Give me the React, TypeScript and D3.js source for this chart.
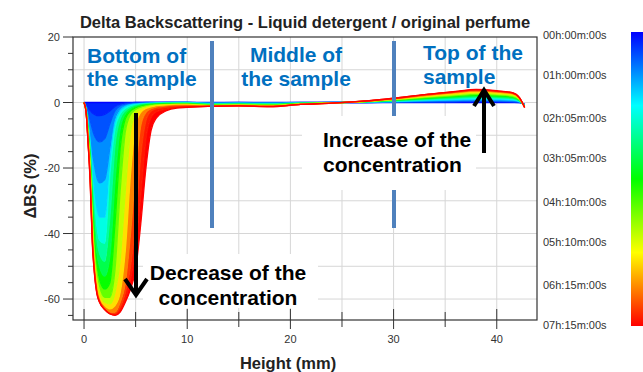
import React from 'react';
import * as d3 from 'd3';

// heights (mm) shared by every profile
const heights = [0, 0.2, 0.4, 0.6, 0.8, 1, 1.25, 1.5, 2, 2.5, 3, 3.5, 4, 4.5, 5, 5.5, 6, 6.5, 7, 8, 9, 10,
  12, 15, 18, 21, 24, 27, 30, 33, 36, 38, 40, 41.5, 42.2, 42.7];

// scan times (minutes)
const times = [0, 15, 35, 60, 90, 120, 150, 185, 220, 260, 300, 340, 380, 410, 425, 435];

// delta backscattering (%) per scan
const dbs000 = [0, 0, 0, 0, 0, 0, 0, 0, 0, 0, 0, 0, 0, 0, 0, 0, 0, 0, 0, 0, 0, 0, 0, 0, 0, 0, 0, 0, 0, 0, 0, 0, 0, 0, 0, -0.5];
const dbs015 = [0, -0.5, -1.5, -2.5, -3.2, -3.6, -4, -4, -3.6, -2.6, -1.2, -0.5, -0.2, -0.1, 0, 0, 0, 0, 0, 0, 0, 0, -0.1, 0, -0.1, 0, 0, 0, 0.1, 0.1, 0.2, 0.2, 0.2, 0.1, 0, -0.6];
const dbs035 = [0, -1, -3, -5.5, -8, -10, -11.5, -12, -11, -6.5, -2.5, -1, -0.5, -0.3, -0.2, -0.1, 0, 0, 0, 0, 0, 0, -0.1, -0.1, -0.1, -0.1, 0, 0, 0.1, 0.2, 0.3, 0.4, 0.4, 0.3, 0.1, -0.7];
const dbs060 = [0, -1.5, -4.5, -9, -15, -19, -23, -24.5, -23.5, -14, -5, -2, -1, -0.6, -0.4, -0.3, -0.2, -0.1, -0.1, 0, 0, 0, -0.2, -0.2, -0.2, -0.1, 0, 0.1, 0.2, 0.4, 0.6, 0.7, 0.6, 0.5, 0.2, -0.8];
const dbs090 = [0, -2, -6, -12, -20, -26, -32, -35, -35, -18, -6, -2.5, -1.2, -0.7, -0.5, -0.4, -0.3, -0.2, -0.1, -0.1, 0, 0, -0.3, -0.2, -0.3, -0.1, 0, 0.1, 0.3, 0.6, 0.8, 1.0, 0.9, 0.7, 0.3, -0.9];
const dbs120 = [0, -2, -7, -14, -23, -31, -38, -42, -43, -22, -8, -3.5, -1.8, -1, -0.7, -0.5, -0.4, -0.3, -0.2, -0.1, -0.1, -0.1, -0.4, -0.3, -0.4, -0.2, -0.1, 0.1, 0.4, 0.8, 1.1, 1.3, 1.2, 1.0, 0.4, -1.0];
const dbs150 = [0, -2.5, -8, -15, -25, -34, -42, -46, -48.5, -35, -13, -5, -2.5, -1.4, -0.9, -0.6, -0.5, -0.4, -0.3, -0.2, -0.2, -0.2, -0.5, -0.4, -0.5, -0.2, -0.1, 0.2, 0.5, 0.9, 1.3, 1.6, 1.4, 1.2, 0.5, -1.0];
const dbs185 = [0, -2.5, -9, -16, -28, -38, -46, -50, -53, -47, -24, -8, -3.5, -2, -1.2, -0.8, -0.6, -0.5, -0.4, -0.3, -0.3, -0.3, -0.6, -0.5, -0.6, -0.3, -0.1, 0.2, 0.6, 1.1, 1.6, 1.9, 1.7, 1.4, 0.6, -1.1];
const dbs220 = [0, -2.5, -9, -18, -31, -42, -50, -54, -57, -55, -37, -14, -5, -2.6, -1.6, -1.1, -0.8, -0.6, -0.5, -0.4, -0.4, -0.4, -0.7, -0.6, -0.7, -0.3, -0.1, 0.2, 0.7, 1.3, 1.9, 2.2, 2.0, 1.7, 0.8, -1.2];
const dbs260 = [0, -2.6, -10, -19, -34, -45, -52, -56, -59.5, -59.5, -51, -27, -9, -3.7, -2.1, -1.4, -1, -0.8, -0.7, -0.6, -0.5, -0.5, -0.8, -0.7, -0.8, -0.4, -0.1, 0.3, 0.8, 1.5, 2.1, 2.5, 2.3, 1.9, 0.9, -1.3];
const dbs300 = [0, -2.7, -10.5, -20, -36, -47, -54, -58, -61, -61.5, -58, -48, -27, -9, -3.5, -2, -1.4, -1, -0.8, -0.7, -0.6, -0.6, -0.9, -0.8, -0.9, -0.4, -0.1, 0.3, 0.9, 1.7, 2.4, 2.9, 2.6, 2.2, 1.0, -1.3];
const dbs340 = [0, -2.8, -11, -21, -38, -49, -56, -59.5, -62, -63, -62, -58, -45, -22, -7, -3, -1.8, -1.3, -1, -0.8, -0.7, -0.7, -1.0, -0.8, -1.0, -0.5, -0.2, 0.3, 1.0, 1.9, 2.7, 3.2, 2.9, 2.5, 1.2, -1.4];
const dbs380 = [0, -2.9, -12, -22.5, -40, -50.5, -57.3, -60.3, -62.8, -64, -64, -61, -55, -40, -21, -7, -3, -1.9, -1.4, -1.1, -0.9, -0.9, -1.1, -0.9, -1.1, -0.5, -0.2, 0.4, 1.1, 2.1, 3.0, 3.5, 3.2, 2.7, 1.3, -1.4];
const dbs410 = [0, -3, -12.5, -23.5, -41.5, -51.3, -58, -60.7, -63.1, -64.4, -64.6, -62.5, -58, -50, -36, -16, -5.5, -2.6, -1.9, -1.4, -1.2, -1.1, -1.1, -1.0, -1.2, -0.6, -0.2, 0.4, 1.2, 2.3, 3.2, 3.8, 3.4, 2.9, 1.4, -1.5];
const dbs425 = [0, -3, -12.8, -24.3, -42.3, -51.7, -58.3, -60.9, -63.2, -64.5, -64.8, -63.3, -60, -54, -44, -28, -11, -4.5, -2.8, -2, -1.5, -1.3, -1.2, -1.0, -1.2, -0.6, -0.2, 0.4, 1.3, 2.4, 3.3, 3.9, 3.5, 3.0, 1.5, -1.5];
const dbs435 = [0, -3, -13, -25, -43, -52, -58.5, -61, -63.2, -64.5, -65, -64, -61, -57, -51, -37, -20, -8.5, -4.8, -2.5, -1.7, -1.5, -1.2, -1.0, -1.3, -0.6, -0.2, 0.4, 1.3, 2.4, 3.4, 4.0, 3.6, 3.0, 1.5, -1.5];

const curves = [dbs000, dbs015, dbs035, dbs060, dbs090, dbs120, dbs150, dbs185, dbs220, dbs260, dbs300, dbs340, dbs380, dbs410, dbs425, dbs435];

// axes
const xMajor = [0, 10, 20, 30, 40];
const xMinor = [5, 15, 25, 35];
const xGrid = [0, 5, 10, 15, 20, 25, 30, 35, 40];
const yMajor = [20, 0, -20, -40, -60];
const yMinor = [15, 10, 5, -5, -10, -15, -25, -30, -35, -45, -50, -55, -65];
const yGrid = [10, 0, -10, -20, -30, -40, -50, -60];

// legend
const legendTimes = [0, 60, 125, 185, 250, 310, 375, 435];
const legendLabels = ['00h:00m:00s', '01h:00m:00s', '02h:05m:00s', '03h:05m:00s', '04h:10m:00s', '05h:10m:00s', '06h:15m:00s', '07h:15m:00s'];
const rainbow = ['#0000ff', '#00ffff', '#00ff00', '#ffff00', '#ff0000'];

const FONT = "'Liberation Sans', Arial, sans-serif";
const BLUE_TXT = '#0070c0';
const BAR = '#4f81bd';

const App = () => {
  const W = 643, H = 372;
  const left = 73, right = 537, top = 37, bottom = 320;

  const x = d3.scaleLinear().domain([-1.07, 43.9]).range([left, right]);
  const y = d3.scaleLinear().domain([-66.4, 20]).range([bottom, top]);
  const tMax = d3.max(times) as number;
  const color = d3.scaleLinear<string>()
    .domain(rainbow.map((_, i) => (i / (rainbow.length - 1)) * tMax))
    .range(rainbow)
    .interpolate(d3.interpolateRgb);
  const tY = d3.scaleLinear().domain([0, tMax]).range([35, 325]);

  const line = d3.line<number>()
    .x((_, i) => x(heights[i]))
    .y(d => y(d))
    .curve(d3.curveMonotoneX);

  const band = (lo: number[], hi: number[]) =>
    d3.area<number>()
      .x((_, i) => x(heights[i]))
      .y0((_, i) => y(lo[i]))
      .y1((_, i) => y(hi[i]))
      .curve(d3.curveMonotoneX)(hi) as string;

  return (
    <svg width={W} height={H} style={{ position: 'absolute', left: 0, top: 0, background: '#fff' }} fontFamily={FONT}>
      <defs>
        <clipPath id="plot">
          <rect x={left} y={top} width={right - left} height={bottom - top} />
        </clipPath>
        <linearGradient id="legend" x1="0" y1="0" x2="0" y2="1">
          {rainbow.map((c, i) => (
            <stop key={i} offset={i / (rainbow.length - 1)} stopColor={c} />
          ))}
        </linearGradient>
      </defs>

      <rect x={0} y={0} width={W} height={H} fill="#fff" />

      {/* grid */}
      {xGrid.map(v => (
        <line key={'gx' + v} x1={x(v)} x2={x(v)} y1={top} y2={bottom} stroke="#d6d6d6" strokeWidth={1} />
      ))}
      {yGrid.map(v => (
        <line key={'gy' + v} x1={left} x2={right} y1={y(v)} y2={y(v)} stroke="#d6d6d6" strokeWidth={1} />
      ))}

      {/* profiles */}
      <g clipPath="url(#plot)">
        {curves.slice(1).map((c, i) => (
          <path key={'b' + i} d={band(curves[i], c)} fill={color(times[i + 1])} stroke="none" />
        ))}
        {curves.map((c, i) => (
          <path key={'l' + i} d={line(c) as string} fill="none" stroke={color(times[i])} strokeWidth={1.3} />
        ))}
      </g>

      {/* region separators */}
      <line x1={212} x2={212} y1={41} y2={228} stroke={BAR} strokeWidth={4} />
      <line x1={394} x2={394} y1={41} y2={228} stroke={BAR} strokeWidth={4} />

      {/* annotation boxes */}
      <rect x={302} y={116} width={174} height={74} fill="#fff" />
      <rect x={143} y={254} width={175} height={54} fill="#fff" />

      <g fill={BLUE_TXT} fontWeight="bold" fontSize={21}>
        <text x={87} y={63}>Bottom of</text>
        <text x={87} y={86}>the sample</text>
        <text x={296} y={62} textAnchor="middle">Middle of</text>
        <text x={296} y={86} textAnchor="middle">the sample</text>
        <text x={423} y={60}>Top of the</text>
        <text x={423} y={84}>sample</text>
      </g>
      <g fill="#000" fontWeight="bold" fontSize={21}>
        <text x={323} y={147}>Increase of the</text>
        <text x={323} y={172}>concentration</text>
        <text x={228} y={280} textAnchor="middle">Decrease of the</text>
        <text x={228} y={305} textAnchor="middle">concentration</text>
      </g>

      {/* arrows */}
      <g stroke="#000" strokeWidth={4} fill="none" strokeLinecap="butt">
        <line x1={136} x2={136} y1={113} y2={294} />
        <polyline points="125,279 136,295 147,279" />
        <line x1={484} x2={484} y1={153} y2={91} />
        <polyline points="474,106 484,90 494,106" />
      </g>

      {/* frame */}
      <rect x={left} y={top} width={right - left} height={bottom - top} fill="none" stroke="#333" strokeWidth={1.2} />

      {/* x axis */}
      {xMajor.map(v => (
        <g key={'xM' + v}>
          <line x1={x(v)} x2={x(v)} y1={309} y2={329} stroke="#333" />
          <text x={x(v)} y={343} textAnchor="middle" fontSize={11} fill="#333">{v}</text>
        </g>
      ))}
      {xMinor.map(v => (
        <line key={'xm' + v} x1={x(v)} x2={x(v)} y1={312} y2={327} stroke="#333" />
      ))}
      <text x={288} y={369} textAnchor="middle" fontSize={16.5} fontWeight="bold" fill="#222">Height (mm)</text>

      {/* y axis */}
      {yMajor.map(v => (
        <g key={'yM' + v}>
          <line x1={63} x2={left} y1={y(v)} y2={y(v)} stroke="#333" />
          <text x={60} y={y(v) + 4} textAnchor="end" fontSize={11} fill="#333">{v}</text>
        </g>
      ))}
      {yMinor.map(v => (
        <line key={'ym' + v} x1={68} x2={left} y1={y(v)} y2={y(v)} stroke="#333" />
      ))}
      <text transform="translate(36,186) rotate(-90)" textAnchor="middle" fontSize={16.5} fontWeight="bold" fill="#222">ΔBS (%)</text>

      {/* title */}
      <text x={305} y={28} textAnchor="middle" fontSize={16.5} fontWeight="bold" fill="#222">
        Delta Backscattering - Liquid detergent / original perfume
      </text>

      {/* legend */}
      <rect x={631} y={32} width={14} height={294} fill="url(#legend)" />
      {legendTimes.map((t, i) => (
        <text key={'lg' + t} x={543} y={tY(t) + 4} fontSize={11} fill="#333">{legendLabels[i]}</text>
      ))}
    </svg>
  );
};

export default App;
